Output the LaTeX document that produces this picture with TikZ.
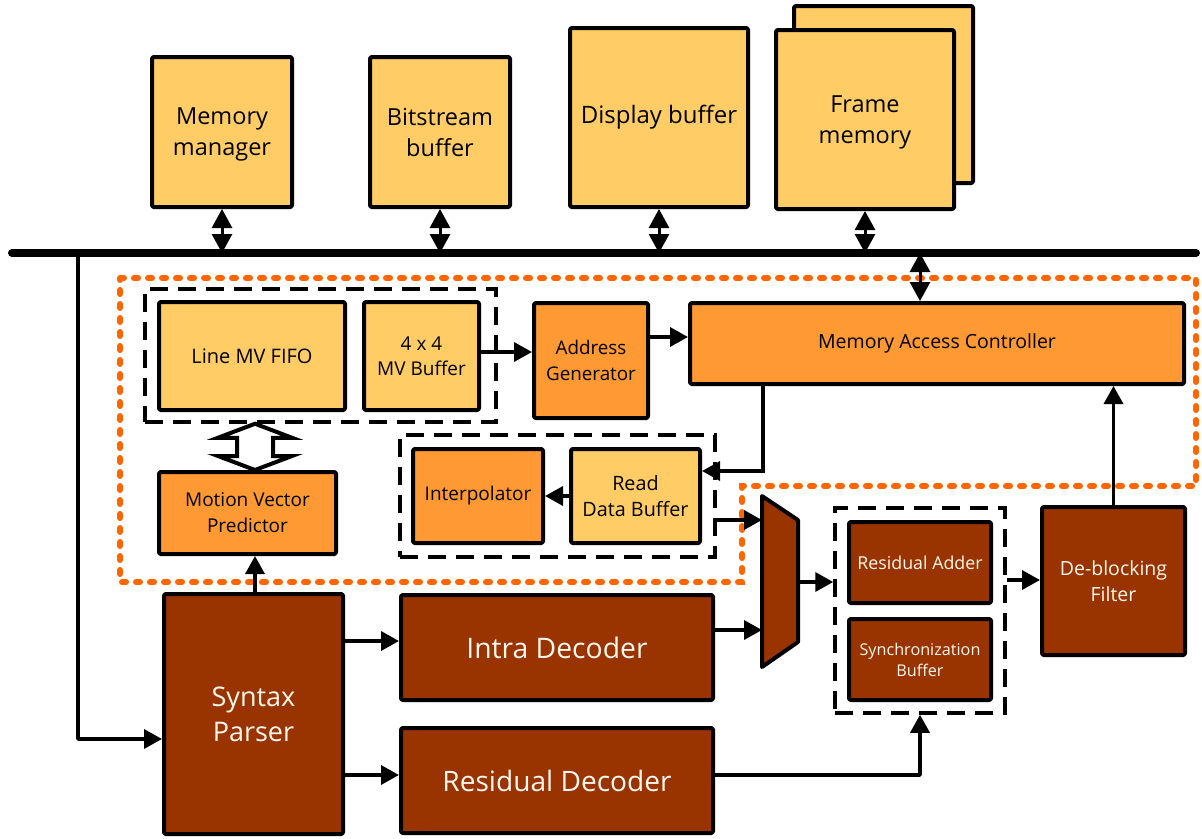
\documentclass[tikz,border=0pt]{standalone}
\usepackage{fontspec}
\setmainfont{Open Sans}
\usetikzlibrary{arrows.meta,calc}
\definecolor{pale}{HTML}{FFCC66}
\definecolor{amber}{HTML}{FF9933}
\definecolor{rust}{HTML}{993300}
\definecolor{dotorange}{HTML}{FF6600}
\definecolor{paletext}{HTML}{FFF8EE}
\begin{document}
\begin{tikzpicture}[x=1pt,y=-1pt,
  blk/.style={draw=black, line width=4pt, line join=round, rounded corners=1.5pt,
              align=center, inner sep=0pt},
  lightbox/.style={blk, fill=pale, text=black},
  midbox/.style={blk, fill=amber, text=black},
  darkbox/.style={blk, fill=rust, text=paletext},
  groupbox/.style={draw=black, line width=3.5pt, dash pattern=on 18pt off 10pt,
                   inner sep=0pt},
  region/.style={draw=dotorange, line width=6pt, line cap=round,
                 dash pattern=on 4pt off 10pt},
  fsz/.style 2 args={font={\fontsize{#1}{#2}\selectfont}},
  arr/.style={line width=3.5pt, -{Triangle[length=18pt,width=19pt]}},
  bidir/.style={line width=3pt,
                {Triangle[length=19pt,width=20pt]}-{Triangle[length=19pt,width=20pt]}},
  bus/.style={line width=8pt, line cap=round}]

\useasboundingbox (0,0) rectangle (1202,838);

% ---- external memories ----
\node[lightbox, minimum width=140pt, minimum height=150pt, fsz={23.5}{31}]
  (mm) at (222,132) {\strut Memory\\manager};
\node[lightbox, minimum width=140pt, minimum height=150pt, fsz={23.5}{31}]
  (bb) at (440,132) {Bitstream\\buffer};
\node[lightbox, minimum width=178pt, minimum height=179pt, fsz={24}{31}]
  (db) at (659,117.5) {Display buffer};
\node[lightbox, minimum width=179pt, minimum height=177pt] (fmback) at (883.5,94.5) {};
\node[lightbox, minimum width=178pt, minimum height=179pt, fsz={23.5}{31}]
  (fm) at (865,119.5) {\strut Frame\\memory};

% ---- system bus ----
\coordinate (busL) at (12,253);
\coordinate (busR) at (1196,253);
\draw[bus] (busL) -- (busR);
\foreach \m in {mm,bb,db,fm}
  \draw[bidir] (\m.south) -- (\m.south |- busL);

% ---- motion compensation region ----
\draw[region] (120,278) -- (1196,278) -- (1196,486) -- (742,486) -- (742,582)
  -- (120,582) -- cycle;

\node[groupbox, minimum width=351pt, minimum height=133pt] (g1) at (320.5,355.5) {};
\node[lightbox, minimum width=186pt, minimum height=108pt, fsz={20}{25}] (fifo) at (252,356) {Line MV FIFO};
\node[lightbox, minimum width=115pt, minimum height=108pt, fsz={19}{25}] (mvb) at (421.5,356) {4 x 4\\MV Buffer};
\node[midbox, minimum width=114pt, minimum height=115pt, fsz={18.8}{26}] (ag) at (591,360.5) {Address\\Generator};
\node[midbox, minimum width=494pt, minimum height=81pt, fsz={19.5}{24}] (mac) at (937,343.5) {Memory Access Controller};
\node[midbox, minimum width=177pt, minimum height=82pt, fsz={19}{26}] (mvp) at (247.5,513) {Motion Vector\\Predictor};

\node[groupbox, minimum width=315pt, minimum height=122pt] (g2) at (557.5,496) {};
\node[midbox, minimum width=130pt, minimum height=94pt, fsz={19}{24}] (interp) at (478,496) {Interpolator};
\node[lightbox, minimum width=129pt, minimum height=94pt, fsz={19.8}{26}] (rdb) at (635.5,496) {Read\\Data Buffer};

% ---- reconstruction path ----
\node[groupbox, minimum width=170pt, minimum height=205pt] (g3) at (920,610.5) {};
\node[darkbox, minimum width=142pt, minimum height=81pt, fsz={17.8}{22}] (radd) at (920,562.5) {Residual Adder};
\node[darkbox, minimum width=142pt, minimum height=81pt, fsz={16.2}{21}] (sync) at (920,659.5) {Synchronization\\Buffer};
\node[darkbox, minimum width=143pt, minimum height=148pt, fsz={19.5}{26}] (dbf) at (1113.5,581) {De-blocking\\Filter};

\node[darkbox, minimum width=179pt, minimum height=240pt, fsz={27}{35}]
  (sp) at (253.5,714) {Syntax\\Parser};
\node[darkbox, minimum width=312pt, minimum height=105pt, fsz={28.3}{34}] (id) at (557,647.5) {Intra Decoder};
\node[darkbox, minimum width=312pt, minimum height=105pt, fsz={28.1}{34}] (rd) at (557,780.5) {Residual Decoder};

% prediction selector
\coordinate (mxA) at (762,496);
\coordinate (mxB) at (798,520);
\coordinate (mxC) at (798,642);
\coordinate (mxD) at (762,667);
\draw[line width=4pt, line join=round, fill=rust] (mxA) -- (mxB) -- (mxC) -- (mxD) -- cycle;

% ---- connectors ----
\coordinate (macbus) at (920,301);
\draw[bidir] (macbus |- busL) -- (macbus);

\draw[arr] (mvb.east |- 0,352) -- (ag.west |- 0,352);
\draw[arr] (ag.east |- 0,337) -- (mac.west |- 0,337);
\draw[arr] (rdb.west) -- (interp.east);

\coordinate (macout) at (763,386);
\coordinate (rdbin) at (702,471);
\draw[arr] (macout) |- (rdbin);

\draw[arr] (g2.east |- 0,520) -- (mxA |- 0,520);
\draw[arr] (id.east |- 0,630) -- (mxA |- 0,630);
\draw[arr] (mxB |- 0,582) -- (g3.west |- 0,582);
\draw[arr] (g3.east |- 0,580) -- (dbf.west |- 0,580);
\draw[arr] (dbf.north) -- (dbf.north |- mac.south);

\draw[arr] (sp.north -| 255,0) -- (mvp.south -| 255,0);
\coordinate (feed) at (78,253);
\draw[arr, line join=round] (feed) |- (sp.west |- 0,739);
\draw[arr] (sp.east |- 0,641) -- (id.west |- 0,641);
\draw[arr] (sp.east |- 0,775) -- (rd.west |- 0,775);
\draw[arr, line join=round] (rd.east |- 0,775) -| (g3.south);

% hollow two-way arrow between the MV store and the predictor
\coordinate (ht) at (g1.south -| 255,0);
\coordinate (hb) at (mvp.north -| 255,0);
\draw[line width=4pt, line join=miter, fill=white]
  (ht) -- ($(ht)+(37,14)$) -- ($(ht)+(18,14)$) -- ($(hb)+(18,-14)$) -- ($(hb)+(37,-14)$)
  -- (hb) -- ($(hb)+(-37,-14)$) -- ($(hb)+(-18,-14)$) -- ($(ht)+(-18,14)$)
  -- ($(ht)+(-37,14)$) -- cycle;
\end{tikzpicture}
\end{document}
